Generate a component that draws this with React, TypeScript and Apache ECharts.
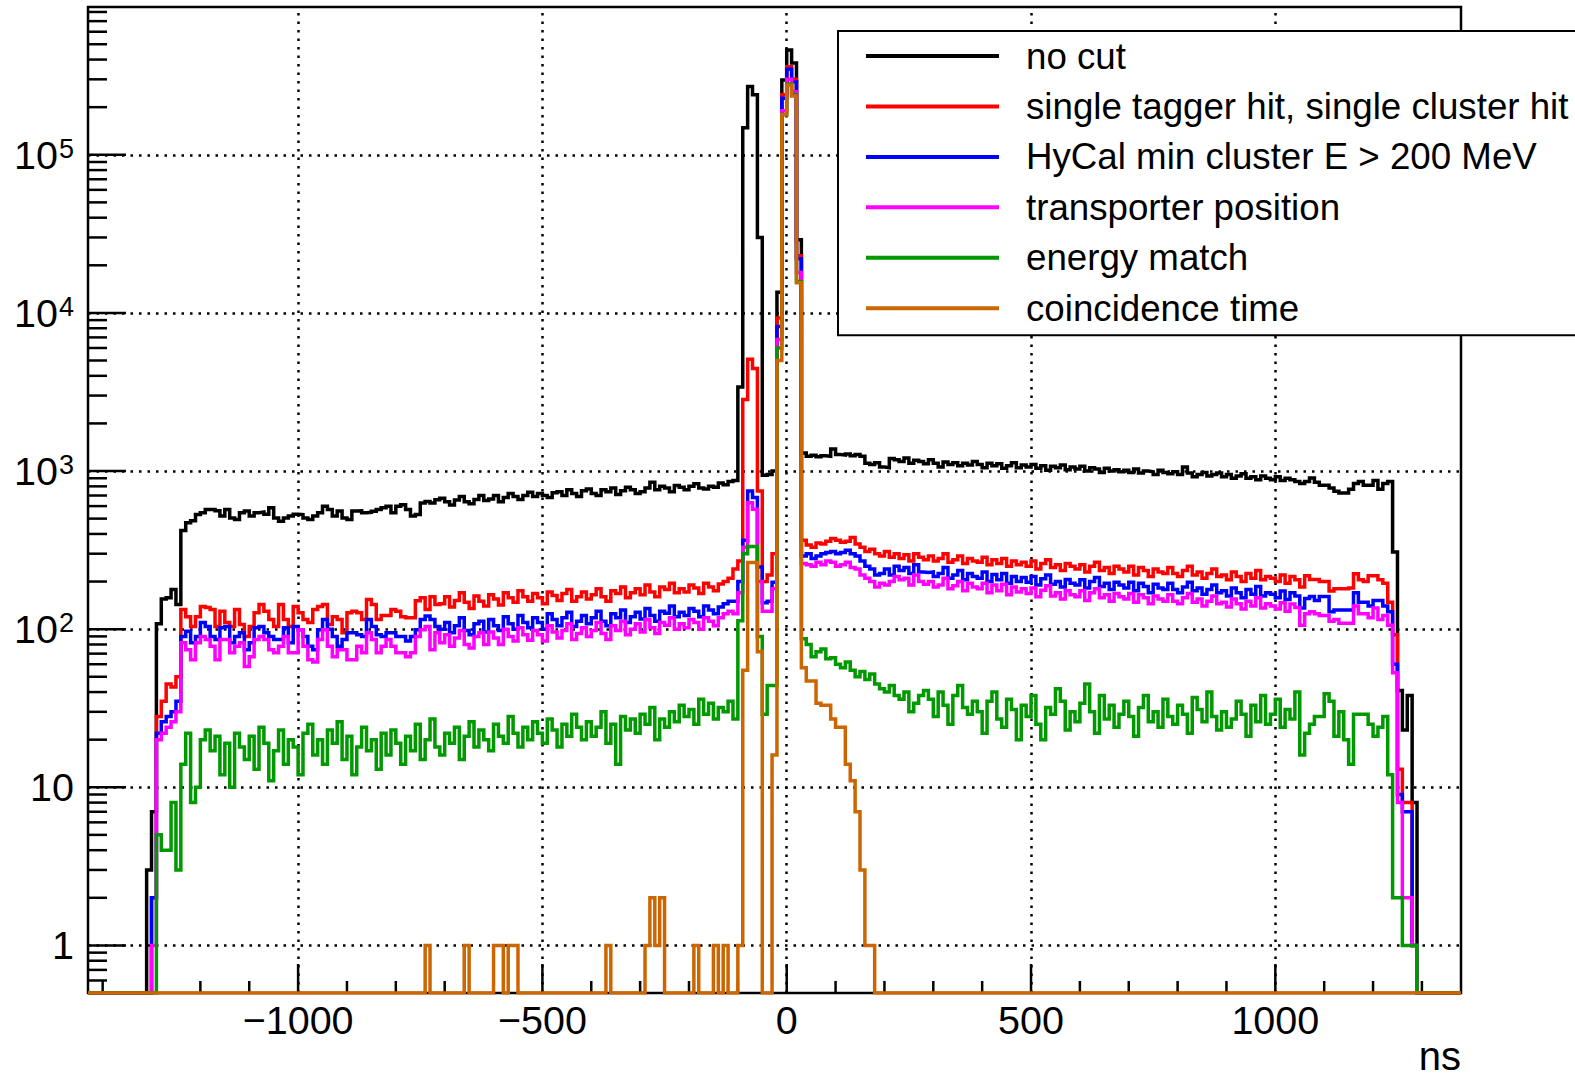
import React, { useEffect, useRef } from 'react';
import * as echarts from 'echarts';

// Histogram binning: 10 ns bins, first filled bin starts at -1310 ns
const BIN_START = -1310;
const BIN_WIDTH = 10;
const X_MIN = -1430;
const X_MAX = 1380;
const Y_MIN = 0.5;
const Y_MAX = 8.6e5;
const FONT = '"Liberation Sans", Arial, Helvetica, sans-serif';

// Bin contents, ten bins per row (row k starts at -1310 + 100k ns)
const noCut = [
  3, 7, 108, 155, 158, 178, 143, 420, 470, 485,
  530, 545, 571, 571, 560, 519, 571, 505, 494, 545,
  558, 519, 545, 550, 532, 585, 505, 481, 505, 519,
  532, 530, 505, 494, 519, 545, 599, 571, 519, 558,
  505, 494, 558, 560, 545, 548, 556, 571, 585, 599,
  545, 599, 613, 571, 519, 530, 627, 642, 627, 657,
  673, 640, 610, 655, 690, 640, 620, 660, 700, 650,
  665, 700, 640, 680, 720, 690, 660, 700, 735, 690,
  720, 700, 680, 730, 740, 700, 760, 720, 690, 750,
  770, 720, 700, 760, 740, 780, 710, 750, 790, 760,
  720, 740, 780, 850, 760, 800, 780, 740, 810, 790,
  760, 800, 830, 780, 770, 800, 790, 840, 820, 860,
  870, 3400, 148000, 270000, 240000, 30000, 940, 950, 1000, 13500,
  297000, 460000, 380000, 29000, 1300, 1240, 1260, 1230, 1250, 1240,
  1380, 1270, 1260, 1280, 1250, 1270, 1240, 1120, 1100, 1130,
  1060, 1050, 1200, 1180, 1150, 1210, 1120, 1170, 1150, 1110,
  1180, 1120, 1060, 1140, 1100, 1130, 1080, 1120, 1090, 1150,
  1100, 1050, 1120, 1080, 1110, 1040, 1080, 1130, 1050, 1090,
  1060, 1100, 1040, 1080, 1010, 1070, 1050, 1090, 1020, 1060,
  1030, 1070, 1000, 1050, 1030, 980, 1040, 1000, 1020, 990,
  1010, 980, 1030, 970, 1000, 990, 950, 1010, 980, 960,
  990, 950, 1060, 970, 920, 950, 980, 930, 950, 970,
  920, 950, 900, 930, 960, 900, 920, 880, 930, 900,
  880, 920, 870, 900, 880, 860, 833, 858, 902, 850,
  812, 812, 780, 744, 725, 725, 767, 833, 858, 812,
  812, 871, 767, 833, 858, 308, 41, 23, 38, 8,
];

const singleHit = [
  0, 2, 28, 35, 45, 43, 50, 133, 120, 104,
  120, 139, 137, 133, 104, 130, 110, 104, 133, 107,
  90, 104, 127, 143, 130, 115, 104, 143, 115, 104,
  139, 127, 115, 110, 133, 139, 143, 107, 120, 115,
  95, 127, 130, 127, 115, 154, 143, 115, 122, 122,
  133, 130, 120, 118, 118, 151, 158, 133, 160, 143,
  145, 160, 138, 152, 170, 148, 135, 162, 150, 140,
  165, 155, 142, 170, 158, 148, 175, 160, 150, 168,
  158, 145, 172, 163, 152, 168, 178, 150, 160, 172,
  155, 165, 180, 160, 150, 175, 168, 185, 158, 170,
  180, 165, 190, 172, 160, 185, 178, 195, 170, 180,
  172, 190, 182, 168, 195, 185, 175, 193, 200, 210,
  240, 270, 2830, 5100, 4450, 747, 200, 220, 300, 9300,
  240000, 360000, 300000, 23000, 365, 340, 330, 350, 345, 360,
  375, 365, 355, 360, 380, 345, 330, 310, 320, 300,
  290, 310, 285, 300, 280, 295, 270, 300, 285, 275,
  290, 270, 280, 300, 265, 275, 290, 260, 280, 270,
  265, 285, 255, 275, 260, 280, 250, 270, 255, 265,
  250, 270, 240, 260, 275, 245, 255, 235, 260, 250,
  240, 255, 230, 250, 265, 235, 245, 225, 250, 240,
  230, 250, 220, 245, 235, 215, 240, 230, 225, 245,
  225, 215, 235, 250, 220, 230, 210, 225, 240, 215,
  220, 205, 230, 215, 200, 225, 210, 235, 205, 215,
  210, 200, 220, 195, 215, 205, 185, 218, 206, 206,
  200, 200, 174, 180, 180, 180, 182, 224, 205, 200,
  218, 218, 205, 195, 148, 92, 13, 8, 8, 1,
];

const minClusterE = [
  0, 2, 22, 26, 28, 30, 35, 90, 97, 82,
  90, 110, 104, 90, 86, 102, 104, 82, 90, 95,
  74, 82, 102, 104, 95, 90, 86, 86, 102, 82,
  104, 99, 90, 78, 74, 99, 115, 100, 90, 78,
  86, 95, 95, 92, 90, 115, 104, 92, 90, 95,
  95, 90, 90, 84, 90, 99, 115, 121, 115, 104,
  100, 110, 95, 105, 118, 98, 92, 108, 112, 96,
  115, 105, 98, 120, 108, 100, 122, 110, 102, 118,
  110, 100, 125, 115, 105, 118, 128, 104, 112, 122,
  108, 118, 130, 112, 105, 125, 118, 132, 110, 120,
  128, 116, 135, 122, 112, 130, 126, 140, 120, 128,
  122, 135, 130, 120, 140, 132, 125, 138, 145, 150,
  150, 200, 365, 748, 680, 247, 147, 150, 198, 8200,
  228000, 348000, 290000, 22000, 290, 300, 280, 290, 300, 305,
  310, 300, 305, 315, 300, 290, 270, 250, 240, 220,
  225, 240, 220, 250, 235, 245, 225, 255, 230, 228,
  230, 215, 225, 245, 210, 220, 235, 205, 225, 215,
  210, 230, 200, 222, 205, 225, 195, 215, 200, 212,
  198, 215, 190, 208, 220, 192, 200, 185, 206, 195,
  190, 205, 182, 200, 212, 186, 195, 178, 198, 190,
  182, 198, 175, 195, 186, 170, 192, 182, 178, 195,
  178, 170, 185, 198, 175, 182, 166, 178, 190, 170,
  175, 162, 182, 170, 158, 178, 166, 186, 162, 170,
  166, 158, 174, 154, 170, 162, 136, 156, 161, 152,
  161, 161, 129, 132, 132, 132, 132, 170, 148, 148,
  140, 152, 152, 140, 129, 60, 9, 7, 7, 1,
];

const transporterPos = [
  0, 1, 20, 22, 24, 26, 30, 82, 74, 64,
  82, 90, 86, 78, 64, 86, 86, 71, 78, 82,
  58, 67, 86, 90, 86, 74, 71, 78, 90, 71,
  71, 99, 78, 64, 62, 86, 99, 78, 67, 74,
  74, 64, 64, 78, 71, 95, 86, 71, 78, 86,
  78, 71, 71, 67, 71, 90, 99, 104, 74, 95,
  82, 92, 78, 88, 98, 80, 76, 90, 95, 80,
  96, 88, 80, 100, 90, 84, 102, 92, 85, 98,
  92, 84, 105, 96, 88, 98, 108, 86, 94, 102,
  90, 98, 110, 94, 86, 105, 98, 112, 92, 100,
  108, 96, 115, 102, 94, 110, 106, 118, 100, 108,
  102, 115, 110, 100, 118, 112, 105, 118, 125, 130,
  125, 170, 330, 630, 573, 200, 130, 130, 180, 6800,
  190000, 300000, 250000, 18000, 260, 255, 250, 265, 255, 270,
  265, 250, 255, 265, 245, 240, 220, 210, 200, 185,
  195, 190, 200, 215, 205, 210, 190, 220, 200, 192,
  200, 185, 190, 210, 180, 188, 200, 175, 195, 185,
  180, 195, 170, 190, 175, 192, 165, 185, 172, 180,
  168, 182, 160, 176, 188, 162, 170, 155, 175, 165,
  160, 175, 152, 170, 180, 158, 165, 150, 168, 160,
  155, 168, 148, 165, 158, 145, 162, 155, 150, 165,
  150, 145, 158, 168, 148, 155, 140, 150, 162, 145,
  148, 138, 155, 145, 134, 150, 140, 158, 136, 145,
  140, 134, 147, 130, 144, 137, 106, 125, 129, 125,
  122, 122, 112, 115, 109, 109, 109, 140, 125, 125,
  118, 136, 115, 122, 106, 53, 8, 2, 2, 1,
];

const energyMatch = [
  0, 0, 5, 4, 4, 8, 3, 14, 22, 8,
  10, 20, 23, 17, 21, 12, 19, 10, 22, 18,
  15, 21, 13, 24, 19, 11, 17, 23, 14, 20,
  18, 12, 22, 25, 16, 20, 14, 23, 19, 26,
  15, 21, 12, 18, 24, 17, 20, 13, 22, 16,
  23, 19, 14, 21, 17, 25, 15, 20, 27, 18,
  16, 22, 19, 24, 15, 21, 26, 18, 23, 20,
  17, 25, 21, 19, 28, 22, 18, 24, 20, 26,
  22, 19, 27, 23, 18, 25, 21, 29, 24, 20,
  26, 21, 24, 30, 19, 25, 14, 28, 23, 27,
  22, 29, 25, 32, 20, 27, 24, 30, 26, 33,
  28, 31, 25, 36, 29, 34, 27, 32, 30, 35,
  27, 113, 300, 333, 333, 90, 29, 44, 44, 6000,
  180000, 280000, 240000, 15800, 87, 80, 67, 72, 75, 65,
  66, 60, 57, 62, 55, 50, 54, 48, 52, 45,
  42, 40, 44, 38, 36, 40, 30, 34, 38, 41,
  36, 28, 40, 33, 25, 38, 44, 32, 29, 35,
  30, 22, 35, 40, 27, 24, 36, 31, 20, 33,
  28, 38, 25, 20, 32, 29, 42, 35, 23, 30,
  26, 34, 45, 30, 22, 38, 27, 33, 24, 29,
  35, 28, 21, 32, 38, 26, 30, 24, 36, 28,
  25, 33, 29, 22, 37, 31, 26, 40, 28, 23,
  30, 24, 27, 35, 29, 21, 33, 26, 38, 25,
  29, 36, 24, 31, 27, 40, 16, 22, 25, 28,
  28, 39, 35, 21, 30, 20, 14, 29, 29, 29,
  25, 21, 24, 28, 12, 2, 2, 1, 1, 1,
];

const coincidenceTime = [
  0, 0, 0, 0, 0, 0, 0, 0, 0, 0,
  0, 0, 0, 0, 0, 0, 0, 0, 0, 0,
  0, 0, 0, 0, 0, 0, 0, 0, 0, 0,
  0, 0, 0, 0, 0, 0, 0, 0, 0, 0,
  0, 0, 0, 0, 0, 0, 0, 0, 0, 0,
  0, 0, 0, 0, 0, 0, 0, 1, 0, 0,
  0, 0, 0, 0, 0, 1, 0, 0, 0, 0,
  0, 1, 1, 0, 1, 1, 0, 0, 0, 0,
  0, 0, 0, 0, 0, 0, 0, 0, 0, 0,
  0, 0, 0, 0, 1, 0, 0, 0, 0, 0,
  0, 0, 1, 2, 1, 2, 0, 0, 0, 0,
  0, 0, 1, 0, 0, 0, 1, 0, 1, 0,
  0, 1, 55, 264, 264, 72, 0, 0, 16, 5000,
  179000, 276000, 235000, 15500, 57, 47, 47, 34, 33, 33,
  27, 24, 24, 14, 11, 7, 3, 1, 1, 0,
  0, 0, 0, 0, 0, 0, 0, 0, 0, 0,
  0, 0, 0, 0, 0, 0, 0, 0, 0, 0,
  0, 0, 0, 0, 0, 0, 0, 0, 0, 0,
  0, 0, 0, 0, 0, 0, 0, 0, 0, 0,
  0, 0, 0, 0, 0, 0, 0, 0, 0, 0,
  0, 0, 0, 0, 0, 0, 0, 0, 0, 0,
  0, 0, 0, 0, 0, 0, 0, 0, 0, 0,
  0, 0, 0, 0, 0, 0, 0, 0, 0, 0,
  0, 0, 0, 0, 0, 0, 0, 0, 0, 0,
  0, 0, 0, 0, 0, 0, 0, 0, 0, 0,
  0, 0, 0, 0, 0, 0, 0, 0, 0, 0,
];

const SERIES = [
  { name: 'no cut', color: '#000000', counts: noCut },
  { name: 'single tagger hit, single cluster hit', color: '#ff0000', counts: singleHit },
  { name: 'HyCal min cluster E > 200 MeV', color: '#0000ff', counts: minClusterE },
  { name: 'transporter position', color: '#ff00ff', counts: transporterPos },
  { name: 'energy match', color: '#009900', counts: energyMatch },
  { name: 'coincidence time', color: '#cc6600', counts: coincidenceTime },
];

// Axis ticks (ns on x, counts on y)
const X_MAJOR_TICKS = [-1000, -500, 0, 500, 1000];
const X_MINOR_TICKS = [
  -1400, -1300, -1200, -1100, -900, -800, -700, -600, -400, -300, -200, -100,
  100, 200, 300, 400, 600, 700, 800, 900, 1100, 1200, 1300,
];
const Y_MAJOR_TICKS = [1, 10, 100, 1000, 10000, 100000];
const Y_MINOR_TICKS = [
  0.6, 0.7, 0.8, 0.9,
  2, 3, 4, 5, 6, 7, 8, 9,
  20, 30, 40, 50, 60, 70, 80, 90,
  200, 300, 400, 500, 600, 700, 800, 900,
  2000, 3000, 4000, 5000, 6000, 7000, 8000, 9000,
  20000, 30000, 40000, 50000, 60000, 70000, 80000, 90000,
  200000, 300000, 400000, 500000, 600000, 700000, 800000,
];

// Turn bin contents into the outline of a step histogram; empty bins sit on the frame floor.
function stepPoints(counts: number[]): [number, number][] {
  const floor = (v: number) => Math.max(v, Y_MIN);
  const pts: [number, number][] = [[X_MIN, Y_MIN], [BIN_START, Y_MIN]];
  counts.forEach((c, i) => {
    const lo = BIN_START + i * BIN_WIDTH;
    pts.push([lo, floor(c)], [lo + BIN_WIDTH, floor(c)]);
  });
  const end = BIN_START + counts.length * BIN_WIDTH;
  pts.push([end, Y_MIN], [X_MAX, Y_MIN]);
  return pts;
}

function xLabel(v: number): string {
  if (v % 500 !== 0) return '';
  return v < 0 ? '\u2212' + Math.abs(v) : String(v);
}

function yLabel(v: number): string {
  const l = Math.log10(v);
  const e = Math.round(l);
  if (Math.abs(l - e) > 1e-6 || e < 0) return '';
  if (e === 0) return '{b|1}';
  if (e === 1) return '{b|10}';
  return `{b|10}{s|${e}}`;
}

export default function App() {
  const ref = useRef<HTMLDivElement>(null);

  useEffect(() => {
    if (!ref.current) return;
    const chart = echarts.init(ref.current, undefined, { renderer: 'svg' });

    const histSeries = SERIES.map((s, i) => ({
      type: 'line',
      name: s.name,
      data: stepPoints(s.counts),
      showSymbol: false,
      symbol: 'none',
      color: s.color,
      itemStyle: { color: s.color },
      lineStyle: { color: s.color, width: 3.5, join: 'miter', cap: 'butt' },
      silent: true,
      z: 10 + i,
      animation: false,
    }));

    const option: any = {
      animation: false,
      backgroundColor: '#ffffff',
      grid: {
        left: 88,
        right: 114,
        top: 7,
        bottom: 85,
        show: true,
        borderColor: '#000',
        borderWidth: 2.5,
        backgroundColor: 'transparent',
        containLabel: false,
        outerBoundsMode: 'none',
      },
      xAxis: {
        type: 'value',
        min: X_MIN,
        max: X_MAX,
        axisLine: { show: false },
        axisTick: { show: false },
        splitLine: { show: false },
        axisLabel: {
          formatter: xLabel,
          fontSize: 39.5,
          fontFamily: FONT,
          color: '#000',
          margin: 7,
        },
      },
      yAxis: {
        type: 'log',
        logBase: 10,
        min: Y_MIN,
        max: Y_MAX,
        axisLine: { show: false },
        axisTick: { show: false },
        splitLine: { show: false },
        axisLabel: {
          formatter: yLabel,
          margin: 14,
          color: '#000',
          rich: {
            b: {
              fontSize: 39.5,
              lineHeight: 39.5,
              fontFamily: FONT,
              color: '#000',
              padding: [8, 0, 0, 0],
              verticalAlign: 'bottom',
            },
            s: {
              fontSize: 27,
              lineHeight: 27,
              fontFamily: FONT,
              color: '#000',
              padding: [0, 0, 0, 1],
              verticalAlign: 'top',
            },
          },
        },
      },
      legend: {
        data: SERIES.map((s) => s.name),
        orient: 'vertical',
        left: 838,
        top: 31,
        padding: [5, 30, 7, 28],
        itemGap: 10.44,
        itemWidth: 133,
        itemHeight: 4,
        icon: 'rect',
        align: 'left',
        backgroundColor: '#ffffff',
        borderColor: '#000',
        borderWidth: 2,
        borderRadius: 0,
        selectedMode: false,
        itemStyle: { borderWidth: 0 },
        textStyle: {
          fontSize: 36.7,
          fontFamily: FONT,
          color: '#000',
          lineHeight: 40,
          padding: [0, 0, 0, 22],
        },
        z: 30,
      },
      graphic: [
        {
          type: 'text',
          x: 1461,
          y: 1076,
          z: 30,
          style: {
            text: 'ns',
            fontSize: 40,
            fontFamily: FONT,
            fill: '#000',
            align: 'right',
            textAlign: 'right',
            verticalAlign: 'bottom',
            textVerticalAlign: 'bottom',
          },
        },
      ],
      series: [
        {
          type: 'line',
          name: 'grid',
          data: [[X_MIN, Y_MIN]],
          showSymbol: false,
          symbol: 'none',
          lineStyle: { width: 0 },
          silent: true,
          z: 1,
          markLine: {
            silent: true,
            symbol: ['none', 'none'],
            label: { show: false },
            animation: false,
            z: 1,
            lineStyle: { color: '#000', width: 2.5, type: [2.5, 6] },
            emphasis: { disabled: true },
            data: [
              ...X_MAJOR_TICKS.map((v) => ({ xAxis: v })),
              ...Y_MAJOR_TICKS.map((v) => ({ yAxis: v })),
            ],
          },
        },
        {
          type: 'custom',
          name: 'xticks',
          silent: true,
          z: 8,
          encode: { x: 0, y: 1 },
          data: [
            ...X_MAJOR_TICKS.map((v) => [v, Y_MIN, 29]),
            ...X_MINOR_TICKS.map((v) => [v, Y_MIN, 12]),
          ],
          renderItem: (_p: any, api: any) => {
            const pt = api.coord([api.value(0), api.value(1)]);
            const len = api.value(2);
            return {
              type: 'line',
              shape: { x1: pt[0], y1: pt[1], x2: pt[0], y2: pt[1] - len },
              style: { stroke: '#000', lineWidth: 2.5 },
            };
          },
        },
        {
          type: 'custom',
          name: 'yticks',
          silent: true,
          z: 8,
          encode: { x: 0, y: 1 },
          data: [
            ...Y_MAJOR_TICKS.map((v) => [X_MIN, v, 38]),
            ...Y_MINOR_TICKS.map((v) => [X_MIN, v, 19]),
          ],
          renderItem: (_p: any, api: any) => {
            const pt = api.coord([api.value(0), api.value(1)]);
            const len = api.value(2);
            return {
              type: 'line',
              shape: { x1: pt[0], y1: pt[1], x2: pt[0] + len, y2: pt[1] },
              style: { stroke: '#000', lineWidth: 2.5 },
            };
          },
        },
        ...histSeries,
      ],
    };

    chart.setOption(option);
    return () => chart.dispose();
  }, []);

  return (
    <div
      ref={ref}
      style={{ position: 'fixed', left: 0, top: 0, width: 1575, height: 1078, background: '#ffffff' }}
    />
  );
}
